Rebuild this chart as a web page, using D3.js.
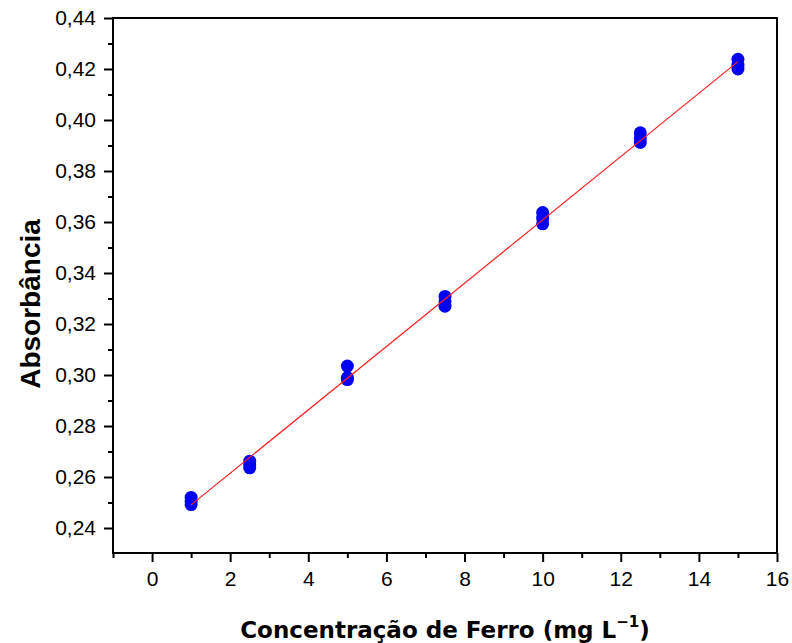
<html>
<script src="https://d3js.org/d3.v7.min.js"></script>
<body style="margin:0;background:#fff">
<script>
    var width = 792, height = 643
    var margin = {left: 113, right: 15, top: 18, bottom: 90}

    // concentration (mg/L) and absorbance replicates
    var conc = [1, 2.5, 5, 7.5, 10, 12.5, 15]
    var rep1 = [0.2520, 0.2662, 0.3035, 0.3308, 0.3637, 0.3950, 0.4238]
    var rep2 = [0.2505, 0.2648, 0.2990, 0.3288, 0.3615, 0.3930, 0.4215]
    var rep3 = [0.2492, 0.2636, 0.2982, 0.3270, 0.3593, 0.3912, 0.4200]
    var xTicks = [0, 2, 4, 6, 8, 10, 12, 14, 16]
    var yTicks = [0.24, 0.26, 0.28, 0.30, 0.32, 0.34, 0.36, 0.38, 0.40, 0.42, 0.44]

    var svg = d3.select('body').append('svg').attr('width', width).attr('height', height)
    var x = d3.scaleLinear().domain([-1, 16]).range([margin.left, width - margin.right])
    var y = d3.scaleLinear().domain([0.2302, 0.44]).range([height - margin.bottom, margin.top])

    var pts = []
    conc.forEach(function(c, i){
        pts.push([c, rep1[i]], [c, rep2[i]], [c, rep3[i]])
    })

    // least squares fit
    var mx = d3.mean(pts, d => d[0]), my = d3.mean(pts, d => d[1])
    var slope = d3.sum(pts, d => (d[0]-mx)*(d[1]-my)) / d3.sum(pts, d => (d[0]-mx)*(d[0]-mx))
    var icpt = my - slope*mx

    var fmt = d => d3.format('.2f')(d).replace('.', ',')

    // frame
    svg.append('rect').attr('x', x(-1)).attr('y', y(0.44))
        .attr('width', x(16) - x(-1)).attr('height', y(0.2302) - y(0.44))
        .attr('fill', 'none').attr('stroke', 'black').attr('stroke-width', 2)

    var xAxis = svg.append('g').attr('transform', `translate(0,${y(0.2302)})`)
        .call(d3.axisBottom(x).tickValues(xTicks).tickSize(9).tickFormat(d3.format('d')))
    var xMinor = svg.append('g').attr('transform', `translate(0,${y(0.2302)})`)
        .call(d3.axisBottom(x).tickValues(d3.range(-1, 16, 2)).tickSize(5).tickFormat(''))
    var yAxis = svg.append('g').attr('transform', `translate(${x(-1)},0)`)
        .call(d3.axisLeft(y).tickValues(yTicks).tickSize(9).tickFormat(fmt))
    var yMinor = svg.append('g').attr('transform', `translate(${x(-1)},0)`)
        .call(d3.axisLeft(y).tickValues(d3.range(0.25, 0.44, 0.02)).tickSize(5).tickFormat(''))

    svg.selectAll('.domain').remove()
    svg.selectAll('.tick line').attr('stroke', 'black').attr('stroke-width', 2)
    svg.selectAll('g').attr('font-size', null).attr('font-family', null)
    svg.selectAll('.tick text')
        .attr('font-family', '"Liberation Sans", Arial, sans-serif')
        .attr('font-size', 21).attr('fill', 'black')
    xAxis.selectAll('.tick text').attr('dy', '1em').attr('y', 12)
    yAxis.selectAll('.tick text').attr('x', -17)

    // points
    svg.append('g').selectAll('circle').data(pts).enter().append('circle')
        .attr('cx', d => x(d[0])).attr('cy', d => y(d[1])).attr('r', 6.5)
        .attr('fill', '#0000f5')

    // fit line, drawn over the points
    svg.append('line')
        .attr('x1', x(1)).attr('y1', y(icpt + slope*1))
        .attr('x2', x(15)).attr('y2', y(icpt + slope*15))
        .attr('stroke', '#ff2020').attr('stroke-width', 1.2)

    // axis titles
    var xt = svg.append('text').attr('x', 445).attr('y', 638).attr('text-anchor', 'middle')
        .attr('font-family', '"DejaVu Sans", Verdana, sans-serif').attr('font-weight', 'bold')
        .attr('font-size', 23).attr('fill', 'black')
    xt.append('tspan').text('Concentração de Ferro (mg L')
    xt.append('tspan').attr('dy', -11).attr('font-size', 15).text('\u22121')
    xt.append('tspan').attr('dy', 11).text(')')

    svg.append('text').attr('transform', 'translate(40,304) rotate(-90)').attr('text-anchor', 'middle')
        .attr('font-family', '"Liberation Sans", Arial, sans-serif').attr('font-weight', 'bold')
        .attr('font-size', 28).attr('fill', 'black').text('Absorbância')
</script>
</body>
</html>
